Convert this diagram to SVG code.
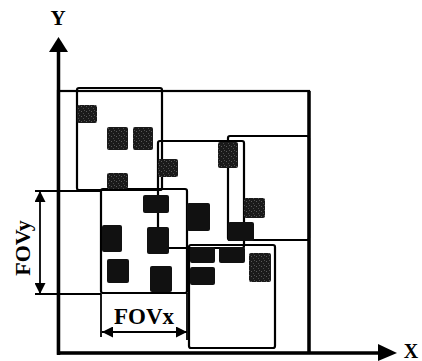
<svg xmlns="http://www.w3.org/2000/svg" width="422" height="361" viewBox="0 0 422 361">
<style>
.fr{fill:none;stroke:#000;stroke-width:2.2}
.ax{fill:none;stroke:#000;stroke-width:3.5}
.dim{fill:none;stroke:#000;stroke-width:1.8}
.dk{fill:#111}
.tx{fill:url(#spk)}
.lbl{font-family:"Liberation Serif","Times New Roman",serif;font-weight:bold;fill:#000}
</style>
<defs>
<pattern id="spk" width="5" height="5" patternUnits="userSpaceOnUse">
<rect width="5" height="5" fill="#1a1a1a"/>
<rect x="1" y="1" width="1" height="1" fill="#5a5a5a"/>
<rect x="3" y="3" width="1" height="1" fill="#4a4a4a"/>
<rect x="4" y="0" width="1" height="1" fill="#505050"/>
</pattern>
<marker id="ah" viewBox="0 0 10 10" refX="10" refY="5" markerWidth="13" markerHeight="11" markerUnits="userSpaceOnUse" orient="auto-start-reverse">
<path d="M0,0 L10,5 L0,10 z" fill="#000"/>
</marker>
</defs>
<g id="frame">
<rect class="fr" x="58" y="91" width="251" height="262"/>
<line x1="309" y1="91" x2="309" y2="353" stroke="#000" stroke-width="3.5"/>
</g>
<g id="fov-a"><rect class="fr" x="77" y="88" width="85" height="102" rx="2"/></g>
<g id="fov-b"><rect class="fr" x="158" y="141" width="86" height="107" rx="2"/></g>
<g id="fov-c"><rect class="fr" x="228" y="136" width="81" height="104" rx="2"/></g>
<g id="fov-d"><rect class="fr" x="101" y="189" width="86" height="104" rx="2"/></g>
<g id="fov-f"><rect class="fr" x="189" y="245" width="86" height="103" rx="2"/></g>
<g id="features">
<rect class="tx" x="77" y="105" width="20" height="18" rx="2"/>
<rect class="tx" x="107" y="127" width="21" height="23" rx="2"/>
<rect class="tx" x="133" y="127" width="20" height="23" rx="2"/>
<rect class="tx" x="158" y="159" width="20" height="18" rx="2"/>
<rect class="tx" x="107" y="173" width="21" height="16" rx="2"/>
<rect class="tx" x="218" y="142" width="20" height="26" rx="2"/>
<rect class="dk" x="143" y="195" width="26" height="18" rx="2"/>
<rect class="dk" x="102" y="225" width="20" height="27" rx="2"/>
<rect class="dk" x="147" y="227" width="22" height="27" rx="2"/>
<rect class="dk" x="107" y="259" width="22" height="24" rx="2"/>
<rect class="dk" x="150" y="266" width="22" height="26" rx="2"/>
<rect class="dk" x="187" y="203" width="23" height="28" rx="2"/>
<rect class="tx" x="244" y="198" width="21" height="20" rx="2"/>
<rect class="dk" x="228" y="222" width="26" height="19" rx="2"/>
<rect class="dk" x="190" y="247" width="25" height="16" rx="2"/>
<rect class="dk" x="219" y="247" width="26" height="16" rx="2"/>
<rect class="dk" x="190" y="267" width="25" height="18" rx="2"/>
<rect class="tx" x="249" y="253" width="22" height="29" rx="2"/>
</g>
<g id="connectors">
<line class="ax" x1="58.5" y1="355" x2="58.5" y2="50"/>
<path d="M49,52 L58.5,37 L68,52 z" fill="#000"/>
<line class="ax" x1="57" y1="353" x2="380" y2="353"/>
<path d="M378,344 L397,353 L378,361 z" fill="#000"/>
<line class="dim" x1="35" y1="191" x2="101" y2="191"/>
<line class="dim" x1="35" y1="294" x2="101" y2="294"/>
<line class="dim" x1="40" y1="191" x2="40" y2="294" marker-start="url(#ah)" marker-end="url(#ah)"/>
<line class="dim" x1="101" y1="294" x2="101" y2="337"/>
<line class="dim" x1="187" y1="293" x2="187" y2="340"/>
<line class="dim" x1="102" y1="332" x2="187" y2="332" marker-start="url(#ah)" marker-end="url(#ah)"/>
</g>
<g id="labels">
<text class="lbl" x="58" y="25" font-size="21" text-anchor="middle">Y</text>
<text class="lbl" x="411" y="358" font-size="20" text-anchor="middle">X</text>
<text class="lbl" x="144" y="324" font-size="23" text-anchor="middle">FOVx</text>
<text class="lbl" font-size="22" text-anchor="middle" transform="translate(30,248) rotate(-90)">FOVy</text>
</g>
</svg>
